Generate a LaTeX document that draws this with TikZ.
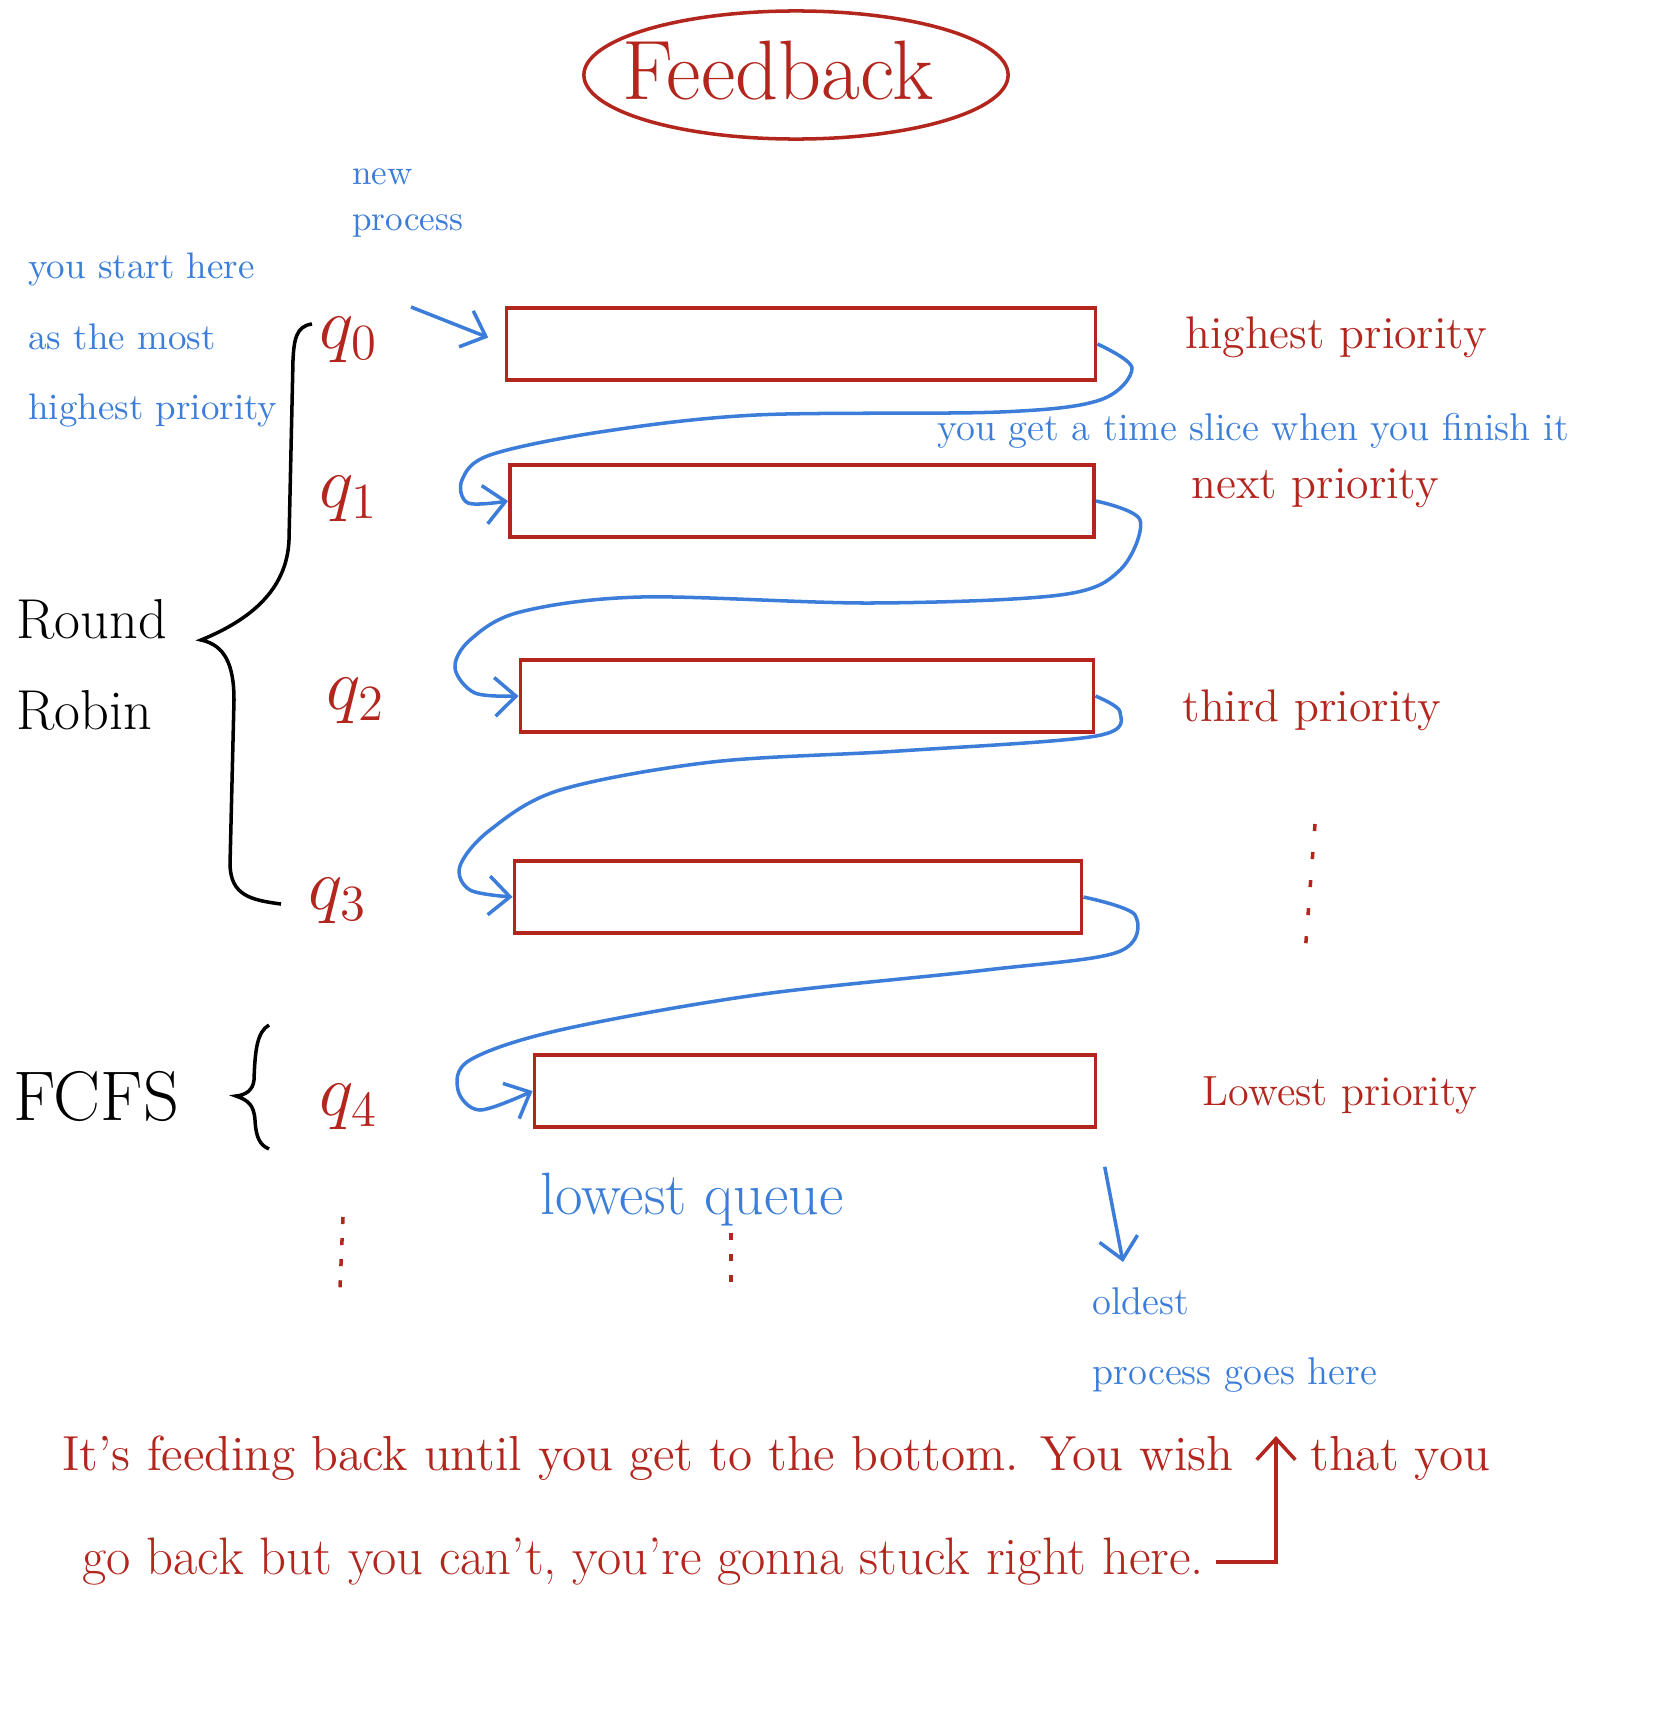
\documentclass[tikz,border=0pt]{standalone}
\usepackage{fontspec}
\usetikzlibrary{arrows.meta,shapes.geometric,positioning}

\begin{document}
\begin{tikzpicture}[x=0.01cm, y=-0.01cm,
    queuebox/.style={draw=penRed, line width=1pt, minimum height=\boxHeight, inner sep=0pt},
    qlabel/.style={text=penRed, font=\fontsize{20}{24}\selectfont},
    redlabel/.style={text=penRed, font=\fontsize{13}{16}\selectfont},
    bluelabel/.style={text=penBlue, align=left, font=\fontsize{12}{20}\selectfont},
    blacklabel/.style={text=black, align=left, font=\fontsize{16}{26}\selectfont},
    feedarrow/.style={penBlue, line width=1pt, -{Straight Barb[length=6pt,width=11pt]}},
    dotline/.style={penRed, line width=1pt, dash pattern=on 2pt off 6pt}]
    \definecolor{penRed}{HTML}{B3261E}
    \definecolor{penBlue}{HTML}{3B7DD8}

    \def\boxHeight{0.72cm}

    \useasboundingbox (0,0) rectangle (1668,1718);

    % Title
    \node[text=penRed, font=\fontsize{24}{28}\selectfont] (title) at (778,71) {Feedback};
    \draw[penRed, line width=1pt] ([shift={(18,4)}]title.center) ellipse (2.12cm and 0.64cm);

    % Draw queues
    \foreach \i/\x/\y/\w in {0/801/344/5.89, 1/802/501/5.84, 2/807/696/5.73, 3/798/897/5.67, 4/815/1091/5.61}
        \node[queuebox, minimum width=\w cm] (box\i) at (\x,\y) {};

    % Label queues
    \foreach \i/\x/\y in {0/349/340, 1/349/499, 2/356/701, 3/338/901, 4/349/1107}
        \node[qlabel] (q\i) at (\x,\y) {$q_\i$};

    % Priorities on the right
    \node[redlabel] (prio0) at (1336,337) {highest priority};
    \node[redlabel] (prio1) at (1315,488) {next priority};
    \node[redlabel] (prio2) at (1312,710) {third priority};
    \node[redlabel, font=\fontsize{12}{15}\selectfont] (prio4) at (1340,1095) {Lowest priority};
    \draw[dotline] (1315,824) -- (1305,954);

    % Notes in blue
    \node[bluelabel, anchor=west, font=\fontsize{10.5}{20}\selectfont] (start) at (16,340)
        {you start here\\as the most\\highest priority};
    \node[bluelabel, anchor=west, font=\fontsize{10}{13}\selectfont] (newproc) at (340,203) {new\\process};
    \node[bluelabel, font=\fontsize{11}{13}\selectfont] (slice) at (1253,431) {you get a time slice when you finish it};
    \node[bluelabel, font=\fontsize{17}{20}\selectfont] (lowq) at (692,1200) {lowest queue};
    \node[bluelabel, anchor=west, font=\fontsize{11}{20}\selectfont] (oldest) at (1080,1340) {oldest\\process goes here};

    % New process comes in
    \coordinate (newstart) at (411,307);
    \draw[feedarrow, shorten >=5pt] (newstart) -- (box0.west);

    % Feedback loops
    \draw[feedarrow] plot[smooth, tension=0.55] coordinates {(box0.east) (1132,368) (1100,400) (1000,412)
        (756,415) (600,432) (490,455) (462,480) (468,503) (box1.west)};
    \draw[feedarrow] plot[smooth, tension=0.55] coordinates {(box1.east) (1140,520) (1120,570) (1060,595)
        (871,603) (641,597) (520,612) (470,640) (455,668) (475,693) (box2.west)};
    \draw[feedarrow] plot[smooth, tension=0.55] coordinates {(box2.east) (1120,712) (1096,736) (899,751)
        (712,762) (560,790) (490,830) (460,866) (470,890) (box3.west)};
    \draw[feedarrow] plot[smooth, tension=0.55] coordinates {(box3.east) (1135,915) (1118,952) (986,970)
        (756,995) (560,1030) (470,1060) (458,1090) (480,1110) (box4.west)};

    % Oldest process leaves
    \coordinate (oldtip) at (1123,1262);
    \draw[feedarrow, shorten <=11pt] (box4.south east) -- (oldtip);

    % Scheduling groups
    \node[blacklabel, anchor=west] (rr) at (4,665) {Round\\Robin};
    \draw[line width=1pt] (312,324) .. controls (296,326) and (294,340) .. (293,360) -- (289,540)
        .. controls (287,590) and (250,620) .. (201,640) .. controls (225,645) and (234,665) .. (234,700)
        -- (230,865) .. controls (231,895) and (250,900) .. (281,904);
    \node[blacklabel, font=\fontsize{20}{24}\selectfont] (fcfs) at (96,1096) {FCFS};
    \draw[line width=1pt] (269,1025) .. controls (257,1032) and (255,1050) .. (254,1080)
        .. controls (253,1090) and (246,1095) .. (236,1096) .. controls (248,1100) and (254,1105) .. (255,1120)
        .. controls (256,1138) and (260,1145) .. (269,1149);

    % More queues below
    \draw[dotline, dash pattern=on 2pt off 4pt] (343,1217) -- (340,1288);
    \draw[dotline, dash pattern=on 2pt off 4pt] (731,1233) -- (731,1282);

    % Bottom remark
    \node[redlabel, anchor=west, font=\fontsize{14}{17}\selectfont] (remark1) at (50,1458)
        {It's feeding back until you get to the bottom. You wish};
    \node[redlabel, anchor=west, font=\fontsize{14}{17}\selectfont] (remark2) at (1298,1458) {that you};
    \node[redlabel, anchor=west, font=\fontsize{15}{18}\selectfont] (remark3) at (70,1562)
        {go back but you can't, you're gonna stuck right here.};
    \coordinate (wishtip) at (1276,1436);
    \draw[penRed, line width=1pt, -{Straight Barb[length=6pt,width=11pt]}] (remark3.east) -| (wishtip);

\end{tikzpicture}
\end{document}
